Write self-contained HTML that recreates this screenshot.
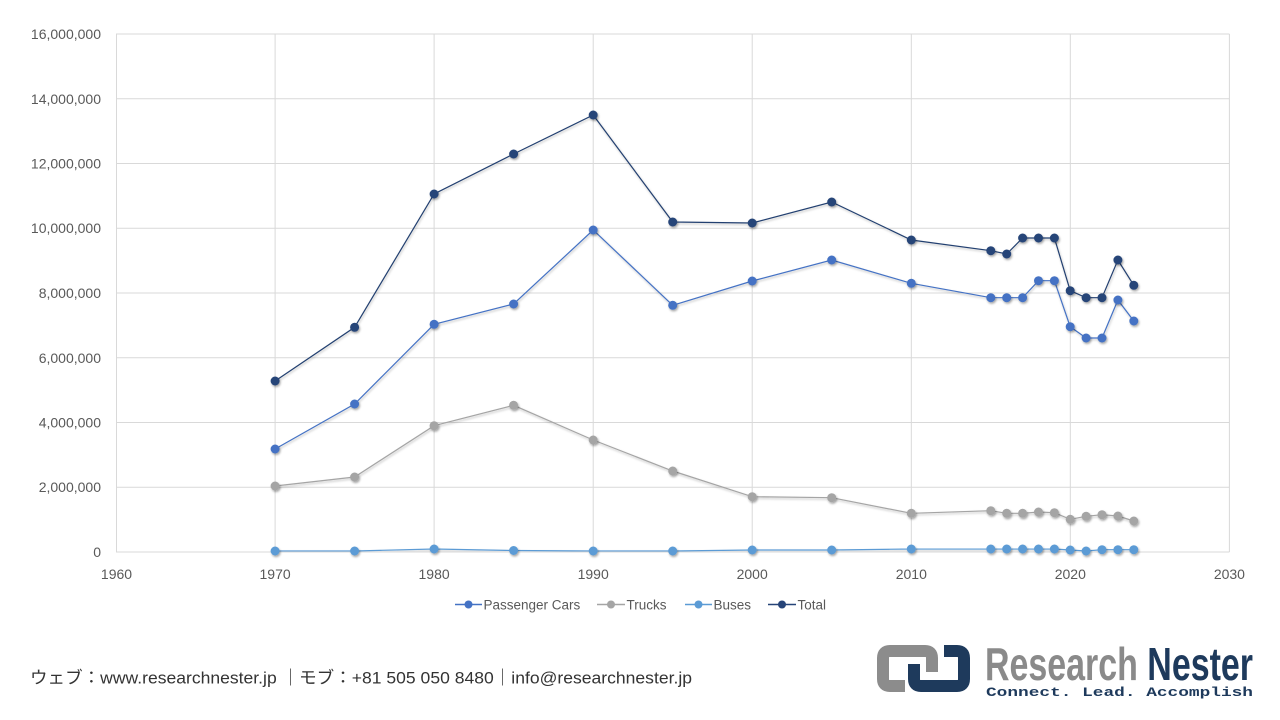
<!DOCTYPE html>
<html><head><meta charset="utf-8"><style>
html,body{margin:0;padding:0;background:#fff;}
svg{display:block;}
</style></head><body>
<svg width="1280" height="720" viewBox="0 0 1280 720" xmlns="http://www.w3.org/2000/svg">
<defs>
<filter id="sh" x="-50%" y="-50%" width="200%" height="200%">
<feDropShadow dx="1" dy="1.6" stdDeviation="1.1" flood-color="#000" flood-opacity="0.35"/>
</filter>
<filter id="shl" x="-5%" y="-5%" width="110%" height="110%">
<feDropShadow dx="0.8" dy="1.5" stdDeviation="1" flood-color="#000" flood-opacity="0.25"/>
</filter>
</defs>
<rect width="1280" height="720" fill="#fff"/>
<g stroke="#d9d9d9" stroke-width="1" fill="none">
<line x1="116" y1="34" x2="1229.4" y2="34"/>
<line x1="116" y1="98.75" x2="1229.4" y2="98.75"/>
<line x1="116" y1="163.5" x2="1229.4" y2="163.5"/>
<line x1="116" y1="228.25" x2="1229.4" y2="228.25"/>
<line x1="116" y1="293" x2="1229.4" y2="293"/>
<line x1="116" y1="357.75" x2="1229.4" y2="357.75"/>
<line x1="116" y1="422.5" x2="1229.4" y2="422.5"/>
<line x1="116" y1="487.25" x2="1229.4" y2="487.25"/>
<line x1="116" y1="552" x2="1229.4" y2="552"/>
<line x1="116.5" y1="34" x2="116.5" y2="552"/>
<line x1="275.1" y1="34" x2="275.1" y2="552"/>
<line x1="434.1" y1="34" x2="434.1" y2="552"/>
<line x1="593.2" y1="34" x2="593.2" y2="552"/>
<line x1="752.2" y1="34" x2="752.2" y2="552"/>
<line x1="911.3" y1="34" x2="911.3" y2="552"/>
<line x1="1070.3" y1="34" x2="1070.3" y2="552"/>
<line x1="1229.4" y1="34" x2="1229.4" y2="552"/>
</g>
<g font-family="Liberation Sans, sans-serif" font-size="14" fill="#595959" text-anchor="end">
<text x="101" y="39">16,000,000</text>
<text x="101" y="104">14,000,000</text>
<text x="101" y="168.5">12,000,000</text>
<text x="101" y="233">10,000,000</text>
<text x="101" y="298">8,000,000</text>
<text x="101" y="363">6,000,000</text>
<text x="101" y="427.5">4,000,000</text>
<text x="101" y="492">2,000,000</text>
<text x="101" y="557">0</text>
</g>
<g font-family="Liberation Sans, sans-serif" font-size="14" fill="#595959" text-anchor="middle">
<text x="116.5" y="579">1960</text>
<text x="275.1" y="579">1970</text>
<text x="434.1" y="579">1980</text>
<text x="593.2" y="579">1990</text>
<text x="752.2" y="579">2000</text>
<text x="911.3" y="579">2010</text>
<text x="1070.3" y="579">2020</text>
<text x="1229.4" y="579">2030</text>
</g>

<!-- Buses -->
<g filter="url(#shl)">
<polyline fill="none" stroke="#5b9bd5" stroke-width="1.2" points="275.1,551 354.6,551 434.1,549 513.6,550.5 593.2,551 672.7,551 752.2,550 831.7,550 911.3,549 990.8,549 1006.7,549 1022.6,549 1038.5,549 1054.4,549 1070.2,550 1086.1,551 1102,549.7 1117.9,549.7 1133.8,549.7"/>
</g>
<g fill="#5b9bd5" filter="url(#sh)">
<circle cx="275.1" cy="551" r="4.5"/><circle cx="354.6" cy="551" r="4.5"/><circle cx="434.1" cy="549" r="4.5"/><circle cx="513.6" cy="550.5" r="4.5"/><circle cx="593.2" cy="551" r="4.5"/><circle cx="672.7" cy="551" r="4.5"/><circle cx="752.2" cy="550" r="4.5"/><circle cx="831.7" cy="550" r="4.5"/><circle cx="911.3" cy="549" r="4.5"/><circle cx="990.8" cy="549" r="4.5"/><circle cx="1006.7" cy="549" r="4.5"/><circle cx="1022.6" cy="549" r="4.5"/><circle cx="1038.5" cy="549" r="4.5"/><circle cx="1054.4" cy="549" r="4.5"/><circle cx="1070.2" cy="550" r="4.5"/><circle cx="1086.1" cy="551" r="4.5"/><circle cx="1102" cy="549.7" r="4.5"/><circle cx="1117.9" cy="549.7" r="4.5"/><circle cx="1133.8" cy="549.7" r="4.5"/>
</g>

<!-- Trucks -->
<g filter="url(#shl)">
<polyline fill="none" stroke="#a5a5a5" stroke-width="1.2" points="275.1,486 354.6,477 434.1,425.7 513.6,405.3 593.2,440 672.7,471 752.2,496.7 831.7,497.7 911.3,513.3 990.8,510.7 1006.7,513.3 1022.6,513.3 1038.5,512 1054.4,512.7 1070.2,519.3 1086.1,516.3 1102,514.7 1117.9,516 1133.8,521"/>
</g>
<g fill="#a5a5a5" filter="url(#sh)">
<circle cx="275.1" cy="486" r="4.5"/><circle cx="354.6" cy="477" r="4.5"/><circle cx="434.1" cy="425.7" r="4.5"/><circle cx="513.6" cy="405.3" r="4.5"/><circle cx="593.2" cy="440" r="4.5"/><circle cx="672.7" cy="471" r="4.5"/><circle cx="752.2" cy="496.7" r="4.5"/><circle cx="831.7" cy="497.7" r="4.5"/><circle cx="911.3" cy="513.3" r="4.5"/><circle cx="990.8" cy="510.7" r="4.5"/><circle cx="1006.7" cy="513.3" r="4.5"/><circle cx="1022.6" cy="513.3" r="4.5"/><circle cx="1038.5" cy="512" r="4.5"/><circle cx="1054.4" cy="512.7" r="4.5"/><circle cx="1070.2" cy="519.3" r="4.5"/><circle cx="1086.1" cy="516.3" r="4.5"/><circle cx="1102" cy="514.7" r="4.5"/><circle cx="1117.9" cy="516" r="4.5"/><circle cx="1133.8" cy="521" r="4.5"/>
</g>

<!-- Passenger Cars -->
<g filter="url(#shl)">
<polyline fill="none" stroke="#4472c4" stroke-width="1.2" points="275.1,449 354.6,404 434.1,324.3 513.6,304 593.2,230 672.7,305.3 752.2,281 831.7,260 911.3,283.3 990.8,297.7 1006.7,297.7 1022.6,297.7 1038.5,280.7 1054.4,280.7 1070.2,326.7 1086.1,338 1102,338 1117.9,300 1133.8,321"/>
</g>
<g fill="#4472c4" filter="url(#sh)">
<circle cx="275.1" cy="449" r="4.5"/><circle cx="354.6" cy="404" r="4.5"/><circle cx="434.1" cy="324.3" r="4.5"/><circle cx="513.6" cy="304" r="4.5"/><circle cx="593.2" cy="230" r="4.5"/><circle cx="672.7" cy="305.3" r="4.5"/><circle cx="752.2" cy="281" r="4.5"/><circle cx="831.7" cy="260" r="4.5"/><circle cx="911.3" cy="283.3" r="4.5"/><circle cx="990.8" cy="297.7" r="4.5"/><circle cx="1006.7" cy="297.7" r="4.5"/><circle cx="1022.6" cy="297.7" r="4.5"/><circle cx="1038.5" cy="280.7" r="4.5"/><circle cx="1054.4" cy="280.7" r="4.5"/><circle cx="1070.2" cy="326.7" r="4.5"/><circle cx="1086.1" cy="338" r="4.5"/><circle cx="1102" cy="338" r="4.5"/><circle cx="1117.9" cy="300" r="4.5"/><circle cx="1133.8" cy="321" r="4.5"/>
</g>

<!-- Total -->
<g filter="url(#shl)">
<polyline fill="none" stroke="#223f70" stroke-width="1.2" points="275.1,381 354.6,327.3 434.1,194 513.6,154 593.2,115 672.7,222 752.2,223 831.7,202 911.3,240 990.8,250.7 1006.7,254 1022.6,238 1038.5,238 1054.4,238 1070.2,290.7 1086.1,297.7 1102,297.7 1117.9,260 1133.8,285.3"/>
</g>
<g fill="#264478" filter="url(#sh)">
<circle cx="275.1" cy="381" r="4.5"/><circle cx="354.6" cy="327.3" r="4.5"/><circle cx="434.1" cy="194" r="4.5"/><circle cx="513.6" cy="154" r="4.5"/><circle cx="593.2" cy="115" r="4.5"/><circle cx="672.7" cy="222" r="4.5"/><circle cx="752.2" cy="223" r="4.5"/><circle cx="831.7" cy="202" r="4.5"/><circle cx="911.3" cy="240" r="4.5"/><circle cx="990.8" cy="250.7" r="4.5"/><circle cx="1006.7" cy="254" r="4.5"/><circle cx="1022.6" cy="238" r="4.5"/><circle cx="1038.5" cy="238" r="4.5"/><circle cx="1054.4" cy="238" r="4.5"/><circle cx="1070.2" cy="290.7" r="4.5"/><circle cx="1086.1" cy="297.7" r="4.5"/><circle cx="1102" cy="297.7" r="4.5"/><circle cx="1117.9" cy="260" r="4.5"/><circle cx="1133.8" cy="285.3" r="4.5"/>
</g>

<!-- Legend -->
<g font-family="Liberation Sans, sans-serif" font-size="13.5" fill="#595959">
<line x1="455" y1="604.5" x2="482" y2="604.5" stroke="#4472c4" stroke-width="1.5"/>
<circle cx="468.5" cy="604.5" r="4" fill="#4472c4"/>
<text x="483.5" y="609.5">Passenger Cars</text>
<line x1="597" y1="604.5" x2="625" y2="604.5" stroke="#a5a5a5" stroke-width="1.5"/>
<circle cx="611" cy="604.5" r="4" fill="#a5a5a5"/>
<text x="626.5" y="609.5">Trucks</text>
<line x1="685" y1="604.5" x2="712" y2="604.5" stroke="#5b9bd5" stroke-width="1.5"/>
<circle cx="698.5" cy="604.5" r="4" fill="#5b9bd5"/>
<text x="713.5" y="609.5">Buses</text>
<line x1="768" y1="604.5" x2="796" y2="604.5" stroke="#264478" stroke-width="1.5"/>
<circle cx="782" cy="604.5" r="4" fill="#264478"/>
<text x="797.5" y="609.5">Total</text>
</g>

<!-- Footer -->
<text x="30" y="683.5" font-family="Liberation Sans, 'Noto Sans CJK JP', sans-serif" font-size="17" fill="#333" textLength="662" lengthAdjust="spacingAndGlyphs">ウェブ：www.researchnester.jp ｜モブ：+81 505 050 8480｜info@researchnester.jp</text>

<!-- Logo -->
<path d="M905 686 L890 686 Q883 686 883 679 L883 658 Q883 651 890 651 L925 651 Q932 651 932 658 L932 672" fill="none" stroke="#8c8c8c" stroke-width="12"/>
<path d="M914 664 L914 679 Q914 686 921 686 L957 686 Q964 686 964 679 L964 658 Q964 651 957 651 L944 651" fill="none" stroke="#1e3a5c" stroke-width="12"/>
<text x="985" y="680" font-family="Liberation Sans, sans-serif" font-weight="bold" font-size="46" textLength="268" lengthAdjust="spacingAndGlyphs"><tspan fill="#8a8a8a">Research </tspan><tspan fill="#1e3a5c">Nester</tspan></text>
<text x="986" y="696" font-family="Liberation Mono, monospace" font-weight="bold" font-size="13" fill="#1e3a5c" textLength="267" lengthAdjust="spacingAndGlyphs">Connect. Lead. Accomplish</text>
</svg>
</body></html>
